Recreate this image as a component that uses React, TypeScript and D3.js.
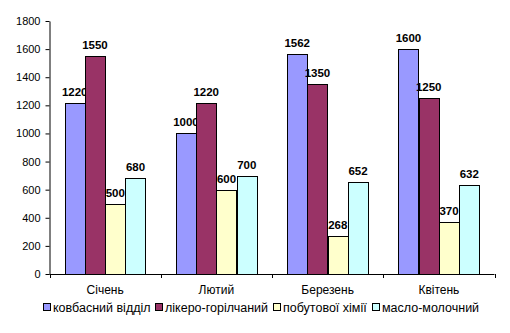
import React, { useEffect, useRef } from 'react';
import * as d3 from 'd3';

const categories = ['Січень', 'Лютий', 'Березень', 'Квітень'];
const seriesNames = ['ковбасний відділ', 'лікеро-горілчаний', 'побутової хімії', 'масло-молочний'];
const kovbasnyi = [1220, 1000, 1562, 1600];
const likeroHorilchanyi = [1550, 1220, 1350, 1250];
const pobutovoiKhimii = [500, 600, 268, 370];
const masloMolochnyi = [680, 700, 652, 632];
const yTicks = [0, 200, 400, 600, 800, 1000, 1200, 1400, 1600, 1800];
const colors = ['#9999FF', '#993366', '#FFFFCC', '#CCFFFF'];

const W = 510;
const H = 333;
const FONT = "Arial, 'Liberation Sans', sans-serif";

export default function App() {
  const ref = useRef<SVGSVGElement | null>(null);

  useEffect(() => {
    const svg = d3.select(ref.current);
    svg.selectAll('*').remove();
    const series = [kovbasnyi, likeroHorilchanyi, pobutovoiKhimii, masloMolochnyi];

    const left = 49.5, right = 494.5, top = 21, bottom = 274;
    const x = d3.scaleBand<string>().domain(categories).range([left, right]).paddingInner(0).paddingOuter(0);
    const x1 = d3.scaleBand<number>().domain([0, 1, 2, 3]).range([0, x.bandwidth()]).paddingInner(0).paddingOuter(0.74);
    const y = d3.scaleLinear().domain([0, 1800]).range([bottom, top]);

    // y axis
    const yAxis = d3.axisLeft(y).tickValues(yTicks).tickFormat(d3.format('d') as any)
      .tickSize(4).tickPadding(5).tickSizeOuter(0);
    const gy = svg.append('g').attr('transform', `translate(${left},0)`).call(yAxis);
    gy.select('.domain').attr('stroke', '#000');
    gy.selectAll('line').attr('stroke', '#000');
    gy.selectAll('text').attr('font-family', FONT).attr('font-size', 11).attr('fill', '#000');

    // x axis
    const gx = svg.append('g');
    gx.append('line').attr('x1', left).attr('x2', right).attr('y1', bottom + 0.5).attr('y2', bottom + 0.5).attr('stroke', '#000');
    const bounds = categories.map((c) => x(c)!).concat([right]);
    gx.selectAll('line.tick').data(bounds).enter().append('line')
      .attr('x1', (d) => Math.round(d) + 0.5).attr('x2', (d) => Math.round(d) + 0.5)
      .attr('y1', bottom).attr('y2', bottom + 4).attr('stroke', '#000');
    gx.selectAll('text').data(categories).enter().append('text')
      .attr('x', (d) => x(d)! + x.bandwidth() / 2).attr('y', bottom + 20)
      .attr('text-anchor', 'middle').attr('font-family', FONT).attr('font-size', 12).text((d) => d);

    // bars
    series.forEach((vals, si) => {
      const g = svg.append('g');
      g.selectAll('rect').data(vals).enter().append('rect')
        .attr('x', (d, i) => Math.round(x(categories[i])! + x1(si)!) + 0.5)
        .attr('y', (d) => Math.round(y(d)) + 0.5)
        .attr('width', Math.round(x1.bandwidth()))
        .attr('height', (d) => Math.round(bottom) - Math.round(y(d)))
        .attr('fill', colors[si]).attr('stroke', '#000').attr('stroke-width', 1);
      g.selectAll('text').data(vals).enter().append('text')
        .attr('x', (d, i) => x(categories[i])! + x1(si)! + x1.bandwidth() / 2)
        .attr('y', (d) => y(d) - 7)
        .attr('text-anchor', 'middle').attr('font-family', FONT).attr('font-size', 11.5)
        .attr('font-weight', 'bold').text((d) => String(d));
    });

    // legend
    const lg = svg.append('g');
    let cx = 0;
    const items: { x: number; g: any }[] = [];
    seriesNames.forEach((name, i) => {
      const gi = lg.append('g');
      gi.append('rect').attr('x', 0.5).attr('y', -3.5).attr('width', 7).attr('height', 7)
        .attr('fill', colors[i]).attr('stroke', '#000').attr('stroke-width', 1);
      const t = gi.append('text').attr('x', 10).attr('y', 4.5).attr('font-family', FONT).attr('font-size', 12.5).text(name);
      const len = (t.node() as SVGTextElement).getComputedTextLength();
      items.push({ x: cx, g: gi });
      cx += 10 + len + 5;
    });
    const total = cx - 5;
    const startX = 261 - total / 2;
    items.forEach((it) => it.g.attr('transform', `translate(${Math.round(startX + it.x)},${307})`));
  }, []);

  return (
    <svg ref={ref} width={W} height={H} style={{ position: 'absolute', left: 0, top: 0, background: '#fff' }} />
  );
}
